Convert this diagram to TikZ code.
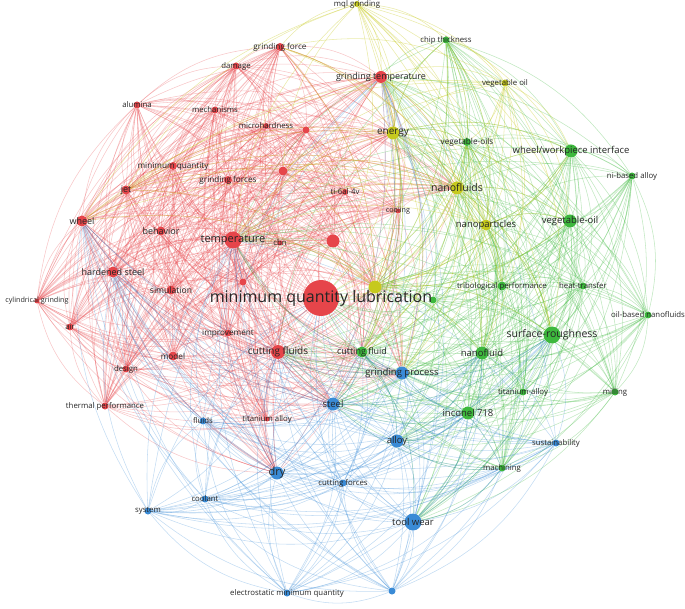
\documentclass[tikz,border=0pt]{standalone}
\usepackage{fontspec}
\setmainfont{Open Sans}
\usepackage{xcolor}
\usepackage{tikz}
\usetikzlibrary{backgrounds}
\definecolor{vosred}{HTML}{E6454A}
\definecolor{vosgreen}{HTML}{3DB83D}
\definecolor{vosblue}{HTML}{3A8BD6}
\definecolor{vosyellow}{HTML}{C6C91E}

% scratch registers for the bend of each link
\newdimen\lax \newdimen\lay \newdimen\lbx \newdimen\lby \newdimen\lox \newdimen\loy

% one curved link, bulging away from the centre node
\newcommand{\vlink}[3]{%
  \pgfextractx{\lax}{\pgfpointanchor{#2}{center}}%
  \pgfextracty{\lay}{\pgfpointanchor{#2}{center}}%
  \pgfextractx{\lbx}{\pgfpointanchor{#3}{center}}%
  \pgfextracty{\lby}{\pgfpointanchor{#3}{center}}%
  \pgfmathsetmacro\crs{((\lax-\lox)/100)*((\lby-\loy)/100)-((\lay-\loy)/100)*((\lbx-\lox)/100)}%
  \pgfmathsetmacro\bnd{\crs>0 ? -20 : 20}%
  \draw[#1] (#2) to[bend left=\bnd] (#3);}

% all links inside one cluster
\newcommand{\linkall}[2]{%
  \foreach \na [count=\ii] in #2 {%
    \foreach \nb [count=\jj] in #2 {%
      \ifnum\jj>\ii \vlink{#1}{\na}{\nb}\fi}}}

% links from a cluster to some hubs
\newcommand{\linkto}[3]{%
  \foreach \na in #2 {\foreach \nb in #3 {\vlink{#1}{\na}{\nb}}}}

\def\redset{mql,temp,gtemp,gforce,damage,alumina,mech,micro,r1,mq,gforces,r2,jet,ti,cooling,wheel,behavior,cbn,r3,hsteel,r4,sim,cgrind,air,improve,cfluids,model,design,thermal,tialloy}
\def\yellowset{mqlg,energy,vegoilb,nanofluids,nanopart,y1}
\def\greenset{chip,vegoils,wwi,nialloy,vegoil,tribo,heat,g1,oilnano,surf,cfluid,nanofluid,tigreen,milling,inconel,machining}
\def\blueset{gproc,steel,fluids,alloy,sustain,dry,cforces,coolant,system,toolwear,electro,b1}

\begin{document}
\begin{tikzpicture}[x=1pt, y=-1pt,
    dot/.style={circle, inner sep=0pt, fill=#1},
    lbl/.style={font=\fontsize{#1}{#1}\selectfont, text=black!85, inner sep=0pt},
    redge/.style={draw=vosred, draw opacity=.3, line width=.55pt},
    gedge/.style={draw=vosgreen, draw opacity=.32, line width=.55pt},
    bedge/.style={draw=vosblue, draw opacity=.3, line width=.55pt},
    yedge/.style={draw=vosyellow, draw opacity=.38, line width=.55pt}]
  \useasboundingbox (0,0) rectangle (685,609);

  % nodes: name / x / y / radius / colour
  \foreach \nm/\px/\py/\rad/\col in {
      mql/321/298/18/vosred, temp/233/240/8.5/vosred, gtemp/381/77/6/vosred,
      gforce/280/47/4/vosred, damage/236/66/3.5/vosred, alumina/137/105/3.5/vosred,
      mech/215/110/3.5/vosred, micro/266/126/3/vosred, r1/306/130/3.5/vosred,
      mq/173/166/4/vosred, gforces/228/180/4/vosred, r2/283/171/4.5/vosred,
      jet/126/190/4.5/vosred, ti/345/192/3/vosred, cooling/398/211/2.5/vosred,
      wheel/82/221/5.5/vosred, behavior/161/231/4.5/vosred, cbn/280/243/2.5/vosred,
      r3/333/241/6.5/vosred, hsteel/113/272/5.5/vosred, r4/243/282/3.5/vosred,
      sim/171/290/4.5/vosred, cgrind/37/301/2.5/vosred, air/70/327/3.5/vosred,
      improve/228/333/3.5/vosred, cfluids/278/352/7/vosred, model/173/356/4.5/vosred,
      design/126/369/3.5/vosred, thermal/105/406/3.5/vosred, tialloy/267/419/2.5/vosred,
      mqlg/357/4/3/vosyellow, energy/393/133/6.5/vosyellow, vegoilb/505/83/3.5/vosyellow,
      nanofluids/457/188/6.5/vosyellow, nanopart/486/225/5.5/vosyellow, y1/375/287/6.5/vosyellow,
      chip/446/40/3.5/vosgreen, vegoils/467/142/4/vosgreen, wwi/571/151/6.5/vosgreen,
      nialloy/632/176/3.5/vosgreen, vegoil/570/221/6.5/vosgreen, tribo/502/286/4.5/vosgreen,
      heat/583/286/3.5/vosgreen, g1/433/300/3.5/vosgreen, oilnano/648/315/3.5/vosgreen,
      surf/552/335/8.5/vosgreen, cfluid/362/352/5.5/vosgreen, nanofluid/482/353/6.5/vosgreen,
      tigreen/523/392/3.5/vosgreen, milling/615/392/3.5/vosgreen, inconel/468/413/6.5/vosgreen,
      machining/502/468/3.5/vosgreen,
      gproc/402/373/6.5/vosblue, steel/333/404/6.5/vosblue, fluids/203/421/3.5/vosblue,
      alloy/397/441/6.5/vosblue, sustain/556/443/3.5/vosblue, dry/277/473/6.5/vosblue,
      cforces/343/483/3.5/vosblue, coolant/205/499/3.5/vosblue, system/148/511/3.5/vosblue,
      toolwear/413/522/8.5/vosblue, electro/287/593/3.5/vosblue, b1/392/591/3.5/vosblue}
    \node[dot=\col, minimum size=\rad*2pt] (\nm) at (\px,\py) {};

  % labels: node / text / size
  \foreach \nm/\txt/\fs in {
      mql/minimum quantity lubrication/16, temp/temperature/11,
      gtemp/grinding temperature/9, gforce/grinding force/8.2, damage/damage/7.8,
      alumina/alumina/7.8, mech/mechanisms/7.8, micro/microhardness/7.8,
      mq/minimum quantity/8.2, gforces/grinding forces/8.2, jet/jet/9,
      ti/ti-6al-4v/7.8, cooling/cooling/7.2, wheel/wheel/9, behavior/behavior/9,
      cbn/cbn/7.8, hsteel/hardened steel/9, sim/simulation/8.6,
      cgrind/cylindrical grinding/7.2, air/air/7.8, improve/improvement/8.2,
      cfluids/cutting fluids/10, model/model/8.2, design/design/7.8,
      thermal/thermal performance/7.8, tialloy/titanium alloy/7.8,
      mqlg/mql grinding/7.8, energy/energy/10, vegoilb/vegetable oil/7.8,
      nanofluids/nanofluids/10.5, nanopart/nanoparticles/9.5,
      chip/chip thickness/7.8, vegoils/vegetable-oils/8.2,
      wwi/wheel\slash workpiece interface/9.5, nialloy/ni-based alloy/7.8,
      vegoil/vegetable-oil/9.5, tribo/tribological performance/7.8,
      heat/heat-transfer/7.8, oilnano/oil-based nanofluids/7.8,
      surf/surface-roughness/10.5, cfluid/cutting fluid/9, nanofluid/nanofluid/9.5,
      tigreen/titanium-alloy/7.8, milling/milling/7.8, inconel/inconel 718/9.5,
      machining/machining/7.8, gproc/grinding process/9.5, steel/steel/9.5,
      fluids/fluids/7.8, alloy/alloy/9.5, sustain/sustainability/7.8, dry/dry/11,
      cforces/cutting forces/7.8, coolant/coolant/7.8, system/system/7.8,
      toolwear/tool wear/9.5, electro/electrostatic minimum quantity/7.8}
    \node[lbl=\fs] (\nm-t) at (\nm) {\txt};

  % links
  \begin{scope}[on background layer]
    \pgfextractx{\lox}{\pgfpointanchor{mql}{center}}
    \pgfextracty{\loy}{\pgfpointanchor{mql}{center}}
    \global\lox=\lox \global\loy=\loy
    \linkall{redge}{\redset}
    \linkall{gedge}{\greenset}
    \linkall{bedge}{\blueset}
    \linkall{yedge}{\yellowset}
    \linkto{redge}{{gtemp,gforce,damage,alumina,mech,micro,r1,mq,gforces,r2,jet,ti,cooling,wheel,behavior,cbn,r3,hsteel,r4,sim,cgrind,air,improve,cfluids,model,design,thermal,tialloy,temp}}{{energy,nanofluids,cfluid,gproc,steel,dry,y1}}
    \linkto{gedge}{\greenset}{{mql,temp,cfluids,gtemp,energy,nanofluids,nanopart,gproc,alloy,toolwear,steel,y1}}
    \linkto{bedge}{\blueset}{{mql,temp,cfluids,cfluid,surf,nanofluid,inconel,machining,hsteel,wheel,gtemp}}
    \linkto{yedge}{\yellowset}{{mql,temp,gtemp,gforce,r2,wwi,vegoil,surf,nanofluid,cfluid,chip,vegoils,tribo,gproc,wheel,jet}}
  \end{scope}
\end{tikzpicture}
\end{document}
